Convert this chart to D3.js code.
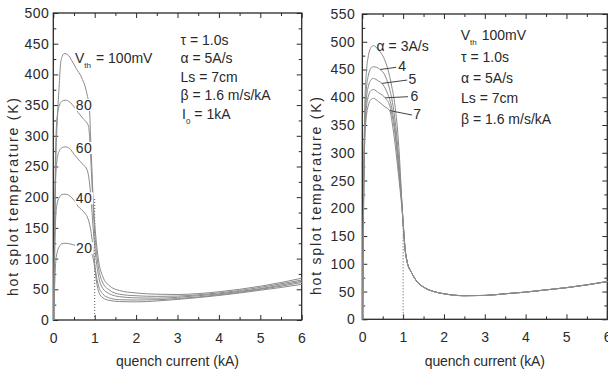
<!DOCTYPE html>
<html>
<head>
<meta charset="utf-8">
<script src="https://cdn.jsdelivr.net/npm/d3@7"></script>
<style>
  html, body { margin: 0; padding: 0; background: #fff; }
  svg { display: block; font-family: "Liberation Sans", Arial, sans-serif; }
</style>
</head>
<body>
<svg id="chart" width="608" height="373"></svg>
<script>
// ---- data: [quench current kA, hot spot temperature K] ----
const xTickValues = [0, 1, 2, 3, 4, 5, 6];
const leftYTicks = [0, 50, 100, 150, 200, 250, 300, 350, 400, 450, 500];
const rightYTicks = [0, 50, 100, 150, 200, 250, 300, 350, 400, 450, 500, 550];

// left panel: threshold voltage Vth (mV)
const vthLevels = [20, 40, 60, 80, 100];
const vth20 = [[0.01,0],[0.03,50],[0.06,95],[0.1,112],[0.15,120],[0.2,124],[0.28,125],[0.4,124],[0.55,121],[0.7,117],[0.85,112],[0.93,107],[0.97,98],[1.0,85],[1.05,60],[1.1,45],[1.2,36],[1.35,32],[1.6,30],[2,29.5],[2.5,31],[3,33.5],[3.5,36.5],[4,40],[4.5,44],[5,48.5],[5.5,53],[6,58]];
const vth40 = [[0.01,0],[0.03,90],[0.06,170],[0.1,192],[0.15,200],[0.2,204],[0.28,205],[0.4,202],[0.5,195],[0.6,185],[0.75,175],[0.82,168],[0.88,155],[0.93,135],[0.97,112],[1.0,92],[1.05,68],[1.1,54],[1.2,42],[1.35,36],[1.6,33],[2,32.5],[2.5,33],[3,35],[3.5,37.5],[4,41],[4.5,45],[5,50],[5.5,55],[6,61]];
const vth60 = [[0.01,0],[0.03,120],[0.06,235],[0.1,265],[0.15,276],[0.2,280],[0.28,282],[0.4,279],[0.5,270],[0.6,262],[0.72,253],[0.82,244],[0.87,226],[0.92,190],[0.96,152],[1.0,120],[1.05,90],[1.1,69],[1.2,51],[1.35,43],[1.6,38],[2,36],[2.5,35.5],[3,37],[3.5,39.5],[4,42.5],[4.5,46.5],[5,51],[5.5,57],[6,63]];
const vth80 = [[0.01,0],[0.03,150],[0.06,290],[0.1,335],[0.15,350],[0.2,356],[0.29,358],[0.4,355],[0.5,347],[0.6,338],[0.72,328],[0.85,316],[0.88,295],[0.92,242],[0.96,188],[1.0,142],[1.05,106],[1.1,82],[1.2,60],[1.35,49],[1.6,42],[2,39.5],[2.5,38.5],[3,39],[3.5,41],[4,44],[4.5,48],[5,53],[5.5,59],[6,65]];
const vth100 = [[0.01,0],[0.04,180],[0.07,280],[0.1,330],[0.145,385],[0.18,420],[0.22,430],[0.265,434],[0.35,432],[0.45,422],[0.55,410],[0.69,394],[0.81,369],[0.875,342],[0.9,300],[0.93,250],[0.96,202],[1.0,158],[1.05,120],[1.1,94],[1.2,70],[1.35,56],[1.6,48],[2,44],[2.5,42],[3,41.5],[3.5,43],[4,46],[4.5,50],[5,55],[5.5,61],[6,68]];
const vthCurves = [vth20, vth40, vth60, vth80, vth100];
// in-line labels for the lower four curves [x, T at baseline]
const vthLabelText = ['20', '40', '60', '80'];
const vthLabelPos = [[0.55,109],[0.54,190],[0.54,272],[0.54,342]];

// right panel: ramp rate alpha (A/s), all share one tail after ~1 kA
const alphaLevels = [3, 4, 5, 6, 7];
const alphaTail = [[1.05,125],[1.1,103],[1.2,85],[1.35,67],[1.5,58],[1.75,50],[2,46],[2.5,42.5],[3,43],[3.5,46],[4,49],[4.5,53],[5,57],[5.5,62],[6,68]];
const alpha3 = [[0.01,0],[0.03,220],[0.06,380],[0.1,445],[0.15,475],[0.2,488],[0.27,493],[0.4,485],[0.52,472],[0.62,452],[0.72,420],[0.8,385],[0.87,335],[0.92,280],[0.96,222],[1.0,175]];
const alpha4 = [[0.01,0],[0.03,210],[0.06,360],[0.1,415],[0.15,440],[0.2,451],[0.27,455],[0.44,450],[0.55,440],[0.65,420],[0.74,390],[0.82,348],[0.88,300],[0.93,255],[0.97,210],[1.0,174]];
const alpha5 = [[0.01,0],[0.03,200],[0.06,345],[0.1,397],[0.15,420],[0.2,430],[0.27,434],[0.4,429],[0.48,425],[0.6,410],[0.7,388],[0.78,355],[0.85,310],[0.91,262],[0.96,215],[1.0,174]];
const alpha6 = [[0.01,0],[0.03,195],[0.06,330],[0.1,380],[0.15,402],[0.2,411],[0.27,414],[0.4,408],[0.56,399],[0.67,385],[0.75,360],[0.82,322],[0.88,278],[0.93,238],[0.97,205],[1.0,173]];
const alpha7 = [[0.01,0],[0.03,190],[0.06,320],[0.1,365],[0.15,386],[0.2,395],[0.27,398],[0.4,392],[0.55,383],[0.67,376],[0.75,345],[0.82,305],[0.88,265],[0.93,230],[0.97,200],[1.0,172]];
const alphaCurves = [alpha3, alpha4, alpha5, alpha6, alpha7];
// labels with leader lines: start on curve, end at label
const alphaLabelText = ['4', '5', '6', '7'];
const alphaLeaderFrom = [[0.44,450],[0.48,425],[0.56,399],[0.67,376]];
const alphaLeaderTo = [[0.83,454],[1.1,431],[1.12,401],[1.22,368]];
const alphaLabelPos = [[0.88,447],[1.13,424],[1.18,394],[1.25,360]];

const leftNotes = ['τ = 1.0s', 'α = 5A/s', 'Ls = 7cm', 'β = 1.6 m/s/kA'];
const rightNotes = ['τ = 1.0s', 'α = 5A/s', 'Ls = 7cm', 'β = 1.6 m/s/kA'];

// ---- drawing ----
const svg = d3.select('#chart');
const ink = '#2a2a2a';
const curveColor = '#8a8a8a';

function drawPanel(cfg) {
  const g = svg.append('g');
  const x = d3.scaleLinear().domain([0, 6]).range([cfg.left, cfg.right]);
  const y = d3.scaleLinear().domain([0, cfg.yMax]).range([cfg.bottom, cfg.top]);

  const xMinor = d3.range(0.5, 6, 1);
  const yMinor = d3.range(25, cfg.yMax, 50);

  // bottom axis with labels
  const bx = g.append('g').attr('transform', `translate(0,${cfg.bottom})`)
    .call(d3.axisBottom(x).tickValues(xTickValues).tickSize(-5).tickPadding(13).tickFormat(d3.format('d')));
  g.append('g').attr('transform', `translate(0,${cfg.bottom})`)
    .call(d3.axisBottom(x).tickValues(xMinor).tickSize(-3).tickFormat(''));
  // top ticks
  g.append('g').attr('transform', `translate(0,${cfg.top})`)
    .call(d3.axisTop(x).tickValues(xTickValues).tickSize(-5).tickFormat(''));
  g.append('g').attr('transform', `translate(0,${cfg.top})`)
    .call(d3.axisTop(x).tickValues(xMinor).tickSize(-3).tickFormat(''));
  // left axis with labels
  g.append('g').attr('transform', `translate(${cfg.left},0)`)
    .call(d3.axisLeft(y).tickValues(cfg.yTicks).tickSize(-5).tickPadding(cfg.labelPad).tickFormat(d3.format('d')));
  g.append('g').attr('transform', `translate(${cfg.left},0)`)
    .call(d3.axisLeft(y).tickValues(yMinor).tickSize(-3).tickFormat(''));
  // right ticks
  g.append('g').attr('transform', `translate(${cfg.right},0)`)
    .call(d3.axisRight(y).tickValues(cfg.yTicks).tickSize(-5).tickFormat(''));
  g.append('g').attr('transform', `translate(${cfg.right},0)`)
    .call(d3.axisRight(y).tickValues(yMinor).tickSize(-3).tickFormat(''));

  g.selectAll('.domain').remove();
  g.selectAll('.tick line').attr('stroke', ink).attr('stroke-width', 1);
  g.selectAll('.tick text').attr('fill', ink).attr('font-size', 14)
    .attr('font-family', '"Liberation Sans", Arial, sans-serif').attr('letter-spacing', 0.5);

  // frame
  g.append('rect')
    .attr('x', cfg.left).attr('y', cfg.top)
    .attr('width', cfg.right - cfg.left).attr('height', cfg.bottom - cfg.top)
    .attr('fill', 'none').attr('stroke', ink).attr('stroke-width', 1.3);

  // dotted marker at 1 kA
  g.append('line')
    .attr('x1', x(1)).attr('x2', x(1))
    .attr('y1', y(0)).attr('y2', y(cfg.dotTop))
    .attr('stroke', '#555').attr('stroke-width', 1).attr('stroke-dasharray', '1,2');

  // curves
  const line = d3.line().x(d => x(d[0])).y(d => y(d[1])).curve(d3.curveMonotoneX);
  g.append('g').selectAll('path')
    .data(cfg.curves)
    .join('path')
    .attr('d', line)
    .attr('fill', 'none')
    .attr('stroke', curveColor)
    .attr('stroke-width', 1);

  // axis titles
  g.append('text')
    .attr('x', (cfg.left + cfg.right) / 2 + cfg.xTitleShift).attr('y', 366)
    .attr('text-anchor', 'middle').attr('font-size', 14).attr('fill', ink)
    .attr('textLength', cfg.xTitleLen).attr('lengthAdjust', 'spacing')
    .text('quench current (kA)');
  g.append('text')
    .attr('transform', `translate(${cfg.yTitleX},${cfg.yTitleY}) rotate(-90)`)
    .attr('text-anchor', 'middle').attr('font-size', 14).attr('fill', ink)
    .attr('textLength', 198).attr('lengthAdjust', 'spacing')
    .text('hot splot temperature (K)');

  return { g, x, y };
}

function subscriptText(g, px, py, main, sub, rest, gap) {
  const t = g.append('text').attr('x', px).attr('y', py)
    .attr('font-size', 14).attr('fill', ink);
  t.append('tspan').text(main);
  t.append('tspan').attr('dy', 5).attr('font-size', 8).text(sub);
  t.append('tspan').attr('dy', -5).attr('dx', gap).text(rest);
  return t;
}

// ---- left panel ----
const L = drawPanel({
  left: 53.3, right: 301.7, top: 13, bottom: 320, yMax: 500, yTicks: leftYTicks,
  labelPad: 4, curves: vthCurves, dotTop: 200,
  xTitleShift: 0, xTitleLen: 123, yTitleX: 18, yTitleY: 197
});

// in-line labels with white masks over the curves
vthLabelText.forEach((txt, i) => {
  const [lx, ly] = vthLabelPos[i];
  const t = L.g.append('text')
    .attr('x', L.x(lx)).attr('y', L.y(ly))
    .attr('font-size', 14).attr('fill', ink).attr('letter-spacing', 0.5)
    .text(txt);
  const b = t.node().getBBox();
  L.g.insert('rect', () => t.node())
    .attr('x', b.x - 1).attr('y', L.y(ly) - 11)
    .attr('width', b.width + 2).attr('height', 12)
    .attr('fill', '#fff');
});
subscriptText(L.g, 75, 63, 'V', 'th', '= 100mV', 5);

const lnotes = L.g.append('g');
leftNotes.forEach((s, i) => {
  lnotes.append('text').attr('x', 180.5).attr('y', 45 + i * 18.4)
    .attr('font-size', 14).attr('fill', ink).text(s);
});
subscriptText(lnotes, 182, 45 + 4 * 18.4, 'I', '0', '= 1kA', 4);

// ---- right panel ----
const curvesR = alphaCurves.map(c => c.concat(alphaTail));
const R = drawPanel({
  left: 362.3, right: 607.3, top: 14, bottom: 319.3, yMax: 550, yTicks: rightYTicks,
  labelPad: 7, curves: curvesR, dotTop: 175,
  xTitleShift: 0, xTitleLen: 120, yTitleX: 321, yTitleY: 196
});

R.g.append('text')
  .attr('x', R.x(0.35)).attr('y', 51)
  .attr('font-size', 14).attr('fill', ink)
  .text('α = 3A/s');
alphaLabelText.forEach((txt, i) => {
  R.g.append('line')
    .attr('x1', R.x(alphaLeaderFrom[i][0])).attr('y1', R.y(alphaLeaderFrom[i][1]))
    .attr('x2', R.x(alphaLeaderTo[i][0])).attr('y2', R.y(alphaLeaderTo[i][1]))
    .attr('stroke', '#444').attr('stroke-width', 1);
  R.g.append('text')
    .attr('x', R.x(alphaLabelPos[i][0])).attr('y', R.y(alphaLabelPos[i][1]))
    .attr('font-size', 14).attr('fill', ink)
    .text(txt);
});

subscriptText(R.g, 460.7, 40, 'V', 'th', '100mV', 5);
rightNotes.forEach((s, i) => {
  R.g.append('text').attr('x', 461).attr('y', 62 + i * 20.7)
    .attr('font-size', 14).attr('fill', ink).text(s);
});
</script>
</body>
</html>
